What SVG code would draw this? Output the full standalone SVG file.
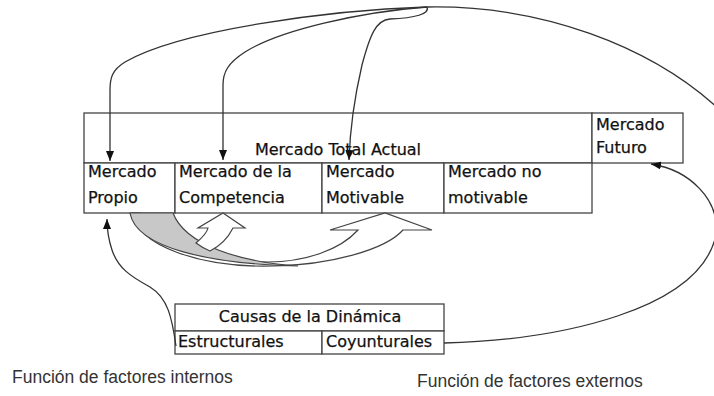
<svg xmlns="http://www.w3.org/2000/svg" width="714" height="396" viewBox="0 0 714 396">
<defs>
<marker id="ah" viewBox="0 0 10 8" refX="10" refY="4" markerWidth="10" markerHeight="8" markerUnits="userSpaceOnUse" orient="auto">
<path d="M0,0 L10,4 L0,8 z" fill="#111"/>
</marker>
<style>
.box{fill:#fff;stroke:#444;stroke-width:1.3}
.t{font-family:"DejaVu Sans",sans-serif;font-size:16px;fill:#111;stroke:#111;stroke-width:0.25}
.f{font-family:"Liberation Sans",Arial,sans-serif;font-size:17.5px;fill:#333}
.c{fill:none;stroke:#333;stroke-width:1.3}
.w{fill:#fff;stroke:#444;stroke-width:1.2}
.g{fill:#c8c8c8;stroke:#444;stroke-width:1.2}
</style>
</defs>
<rect width="714" height="396" fill="#fff"/>

<g id="mercado-total-actual">
<rect class="box" x="84" y="113" width="508" height="50"/>
<text class="t" x="338" y="155" text-anchor="middle">Mercado Total Actual</text>
</g>
<g id="mercado-futuro">
<rect class="box" x="592" y="113" width="91" height="50"/>
<text class="t" x="596" y="130">Mercado</text>
<text class="t" x="596" y="153">Futuro</text>
</g>
<g id="mercado-propio">
<rect class="box" x="84" y="163" width="91" height="50"/>
<text class="t" x="88" y="177">Mercado</text>
<text class="t" x="88" y="203">Propio</text>
</g>
<g id="mercado-competencia">
<rect class="box" x="175" y="163" width="147" height="50"/>
<text class="t" x="179" y="177">Mercado de la</text>
<text class="t" x="179" y="203">Competencia</text>
</g>
<g id="mercado-motivable">
<rect class="box" x="322" y="163" width="122" height="50"/>
<text class="t" x="326" y="177">Mercado</text>
<text class="t" x="326" y="203">Motivable</text>
</g>
<g id="mercado-no-motivable">
<rect class="box" x="444" y="163" width="148" height="50"/>
<text class="t" x="448" y="177">Mercado no</text>
<text class="t" x="448" y="203">motivable</text>
</g>

<g id="causas">
<rect class="box" x="175" y="304" width="269" height="27"/>
<text class="t" x="310" y="322" text-anchor="middle">Causas de la Dinámica</text>
</g>
<g id="estructurales">
<rect class="box" x="175" y="331" width="147" height="23"/>
<text class="t" x="178" y="347">Estructurales</text>
</g>
<g id="coyunturales">
<rect class="box" x="322" y="331" width="122" height="23"/>
<text class="t" x="326" y="347">Coyunturales</text>
</g>

<g id="curved-arrows">
<path class="w" d="M132,213 C136,245 200,268 273,266 C330,265 385,250 403,230 L432,230 L385,213 L330,230 L358,230 C340,250 305,262 268,262 C210,262 150,245 140,213 Z"/>
<path class="g" d="M130,213 C136,248 210,264 298,266 C240,262 185,245 173,213 Z"/>
<path class="w" d="M196,243 C203,237 207,233 208,228 L198,228 L223,213 L245,228 L233,228 C228,238 220,246 210,251 C205,249 200,246 196,243 Z"/>
</g>

<g id="connectors">
<path class="c" d="M427,7 C330,10 180,30 125,62 C112,70 110,78 110,90 L110,161" marker-end="url(#ah)"/>
<path class="c" d="M427,7 C360,12 280,30 245,52 C228,63 223,72 223,85 L223,160" marker-end="url(#ah)"/>
<path class="c" d="M427,7 C430,14 415,18 390,19 C376,20 370,35 362,65 C355,95 350,130 349,160" marker-end="url(#ah)"/>
<path class="c" d="M427,7 C540,5 650,45 720,110"/>
<path class="c" d="M444,343 C560,340 700,310 716,235 C720,200 690,170 651,164" marker-end="url(#ah)"/>
<path class="c" d="M176,346 C172,318 168,298 150,287 C130,276 118,268 112,250 C108,238 107,230 107,219" marker-end="url(#ah)"/>
</g>

<g id="labels">
<text class="f" x="12" y="383">Función de factores internos</text>
<text class="f" x="417" y="387">Función de factores externos</text>
</g>
</svg>
